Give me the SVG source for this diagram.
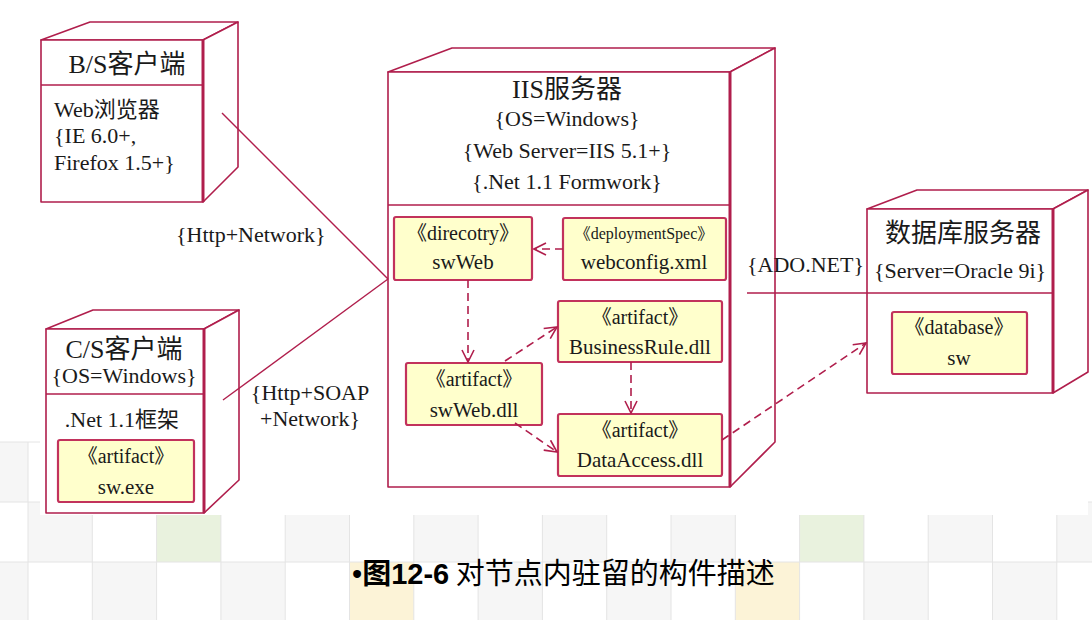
<svg xmlns="http://www.w3.org/2000/svg" width="1092" height="620" viewBox="0 0 1092 620">
<defs>
<style>
.face{fill:#fff;stroke:#b01e4c;stroke-width:1.6;stroke-linejoin:round}
.edge{fill:none;stroke:#b01e4c;stroke-width:1.6}
.thick{fill:none;stroke:#b01e4c;stroke-width:3}
.box{fill:#ffffcc;stroke:#c2325c;stroke-width:2.2}
.t{font-family:"Liberation Serif","Noto Sans CJK SC",serif;fill:#1a1a1a}
.title{font-size:26px}
.lbl{font-size:22px}
.in{font-size:21px}
.st{font-size:20px}
.sm{font-size:16px}
.mid{text-anchor:middle}
.solid{fill:none;stroke:#b01e4c;stroke-width:1.4}
.dash{fill:none;stroke:#b01e4c;stroke-width:1.6;stroke-dasharray:8,5}
.tg{fill:#f6f6f6}
.tgr{fill:#e9f2de}
.ty{fill:#fcf3d7}
.grid{stroke:#e4e4e4;stroke-width:1;fill:none}
</style>
<marker id="open" viewBox="0 0 14 14" refX="13" refY="7" markerWidth="14" markerHeight="14" markerUnits="userSpaceOnUse" orient="auto">
<path d="M1,1 L13,7 L1,13" fill="none" stroke="#b01e4c" stroke-width="1.6" stroke-dasharray="none"/>
</marker>
</defs>

<g id="background">
<rect x="0" y="0" width="1092" height="620" fill="#fff"/>
<rect class="tg" x="-36" y="442" width="64" height="60"/>
<rect class="tg" x="28" y="502" width="64.3" height="60"/>
<rect class="tgr" x="156.6" y="502" width="64.3" height="60"/>
<rect class="tg" x="285.2" y="502" width="64.3" height="60"/>
<rect class="tg" x="413.8" y="502" width="64.3" height="60"/>
<rect class="tg" x="542.4" y="502" width="64.3" height="60"/>
<rect class="tg" x="671" y="502" width="64.3" height="60"/>
<rect class="tgr" x="799.6" y="502" width="64.3" height="60"/>
<rect class="tg" x="928.2" y="502" width="64.3" height="60"/>
<rect class="tg" x="1056.8" y="502" width="64.3" height="60"/>
<rect class="tg" x="-36" y="562" width="64" height="60"/>
<rect class="tg" x="92.3" y="562" width="64.3" height="60"/>
<rect class="tg" x="220.9" y="562" width="64.3" height="60"/>
<rect class="ty" x="349.5" y="562" width="64.3" height="60"/>
<rect class="tg" x="478.1" y="562" width="64.3" height="60"/>
<rect class="tg" x="606.7" y="562" width="64.3" height="60"/>
<rect class="ty" x="735.3" y="562" width="64.3" height="60"/>
<rect class="tg" x="863.9" y="562" width="64.3" height="60"/>
<rect class="tg" x="992.5" y="562" width="64.3" height="60"/>
<path class="grid" d="M0,442H40 M0,502H1092 M0,562H1092 M28,442V620 M92.3,502V620 M156.6,502V620 M220.9,502V620 M285.2,502V620 M349.5,502V620 M413.8,502V620 M478.1,502V620 M542.4,502V620 M606.7,502V620 M671,502V620 M735.3,502V620 M799.6,502V620 M863.9,502V620 M928.2,502V620 M992.5,502V620 M1056.8,502V620"/>
<rect x="40" y="0" width="1048" height="515" fill="#fff"/>
</g>

<g id="bs-client">
<polygon class="face" points="41,40 90,22 238,22 203,40"/>
<polygon class="face" points="203,40 238,22 238,167 203,202"/>
<rect class="face" x="41" y="40" width="162" height="162"/>
<line class="thick" x1="203" y1="40" x2="203" y2="202"/>
<line class="edge" x1="41" y1="85" x2="203" y2="85"/>
<text class="t title mid" x="127" y="73">B/S客户端</text>
<text class="t lbl" x="54" y="117">Web浏览器</text>
<text class="t lbl" x="54" y="143">{IE 6.0+,</text>
<text class="t lbl" x="54" y="170">Firefox 1.5+}</text>
</g>

<g id="cs-client">
<polygon class="face" points="46,329 93,310 239,310 204,329"/>
<polygon class="face" points="204,329 239,310 239,480 204,513"/>
<rect class="face" x="46" y="329" width="158" height="184"/>
<line class="thick" x1="204" y1="329" x2="204" y2="513"/>
<line class="edge" x1="46" y1="394" x2="204" y2="394"/>
<text class="t title mid" x="124" y="358">C/S客户端</text>
<text class="t lbl mid" x="124" y="383">{OS=Windows}</text>
<text class="t lbl mid" x="122" y="427">.Net 1.1框架</text>
<g id="sw-exe">
<rect class="box" x="58" y="440" width="136" height="62" rx="2"/>
<text class="t st mid" x="126" y="463">《artifact》</text>
<text class="t in mid" x="126" y="494">sw.exe</text>
</g>
</g>

<g id="iis-server">
<polygon class="face" points="388,72 452,48 775,48 730,72"/>
<polygon class="face" points="730,72 775,48 775,442 730,487"/>
<rect class="face" x="388" y="72" width="342" height="415"/>
<line class="thick" x1="730" y1="72" x2="730" y2="487"/>
<line class="edge" x1="388" y1="205" x2="730" y2="205"/>
<text class="t title mid" x="567" y="98">IIS服务器</text>
<text class="t lbl mid" x="567" y="126">{OS=Windows}</text>
<text class="t lbl mid" x="567" y="158">{Web Server=IIS 5.1+}</text>
<text class="t lbl mid" x="567" y="189">{.Net 1.1 Formwork}</text>
</g>

<g id="swweb">
<rect class="box" x="394" y="217" width="138" height="63" rx="2"/>
<text class="t st mid" x="463" y="240">《direcotry》</text>
<text class="t in mid" x="463" y="269">swWeb</text>
</g>
<g id="webconfig">
<rect class="box" x="563" y="218" width="163" height="62" rx="2"/>
<text class="t sm mid" x="644" y="239">《deploymentSpec》</text>
<text class="t in mid" x="644" y="269">webconfig.xml</text>
</g>
<g id="businessrule">
<rect class="box" x="558" y="301" width="164" height="61" rx="2"/>
<text class="t st mid" x="640" y="324">《artifact》</text>
<text class="t in mid" x="640" y="354">BusinessRule.dll</text>
</g>
<g id="swweb-dll">
<rect class="box" x="406" y="363" width="136" height="62" rx="2"/>
<text class="t st mid" x="474" y="386">《artifact》</text>
<text class="t in mid" x="474" y="417">swWeb.dll</text>
</g>
<g id="dataaccess">
<rect class="box" x="558" y="414" width="164" height="62" rx="2"/>
<text class="t st mid" x="640" y="437">《artifact》</text>
<text class="t in mid" x="640" y="467">DataAccess.dll</text>
</g>

<g id="db-server">
<polygon class="face" points="867,209 917,190 1088,190 1053,209"/>
<polygon class="face" points="1053,209 1088,190 1088,372 1053,393"/>
<rect class="face" x="867" y="209" width="186" height="184"/>
<line class="thick" x1="1053" y1="209" x2="1053" y2="393"/>
<line class="edge" x1="867" y1="293" x2="1053" y2="293"/>
<text class="t title mid" x="963" y="242">数据库服务器</text>
<text class="t lbl mid" x="960" y="278">{Server=Oracle 9i}</text>
<g id="sw-db">
<rect class="box" x="892" y="312" width="135" height="62" rx="2"/>
<text class="t st mid" x="959" y="334">《database》</text>
<text class="t in mid" x="959" y="365">sw</text>
</g>
</g>

<g id="connectors">
<line class="solid" x1="222" y1="113" x2="388" y2="279"/>
<line class="solid" x1="223" y1="400" x2="388" y2="279"/>
<line class="solid" x1="747" y1="293" x2="867" y2="293"/>
<text class="t lbl" x="176" y="242">{Http+Network}</text>
<text class="t lbl mid" x="310" y="400">{Http+SOAP</text>
<text class="t lbl mid" x="310" y="426">+Network}</text>
<text class="t lbl" x="747" y="272">{ADO.NET}</text>
<line class="dash" x1="563" y1="249" x2="534" y2="249" marker-end="url(#open)"/>
<line class="dash" x1="468" y1="280" x2="468" y2="362" marker-end="url(#open)"/>
<line class="dash" x1="505" y1="361" x2="557" y2="327" marker-end="url(#open)"/>
<line class="dash" x1="631" y1="362" x2="631" y2="413" marker-end="url(#open)"/>
<line class="dash" x1="515" y1="423" x2="557" y2="452" marker-end="url(#open)"/>
<line class="dash" x1="722" y1="440" x2="866" y2="343" marker-end="url(#open)"/>
</g>

<g id="caption">
<text x="352" y="584" font-size="29" fill="#000"><tspan font-family="Liberation Sans,sans-serif">•</tspan><tspan font-family="Noto Sans CJK SC,sans-serif" font-weight="bold">图</tspan><tspan font-family="Liberation Sans,sans-serif" font-weight="bold">12-6</tspan><tspan font-family="Noto Sans CJK SC,sans-serif"> 对节点内驻留的构件描述</tspan></text>
</g>
</svg>
